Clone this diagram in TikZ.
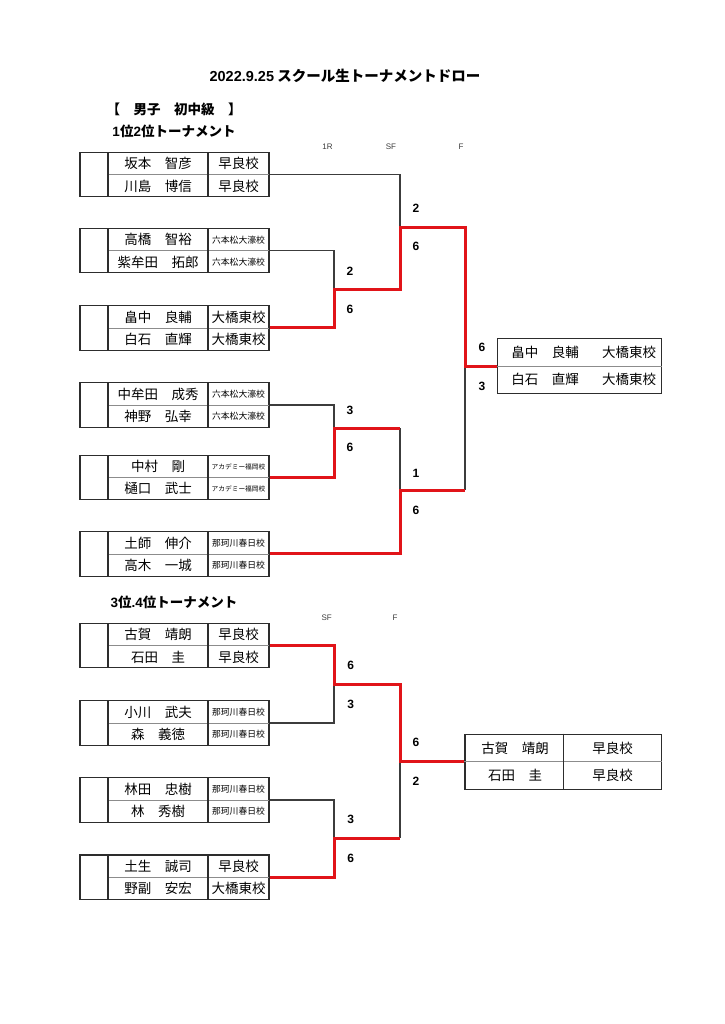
\documentclass[tikz,border=0pt]{standalone}
\usepackage{fontspec}
\setmainfont{Noto Sans CJK JP}
\newfontfamily\lat{Liberation Sans}
\definecolor{lg}{RGB}{60,60,60}
\definecolor{bx}{RGB}{45,45,45}
\definecolor{dv}{RGB}{140,140,140}
\definecolor{rd}{RGB}{225,20,25}
\tikzset{
  pairbox/.style={draw=bx,line width=1.2pt,rectangle,minimum width=189pt,minimum height=44.5pt,inner sep=0pt},
  finbox/.style={draw=bx,line width=1.2pt,rectangle,inner sep=0pt},
  boxline/.style={draw=bx,line width=1.1pt},
  midline/.style={draw=dv,line width=0.8pt},
  nm/.style={inner sep=0pt,font=\fontsize{13.5}{15}\selectfont},
  sch/.style={inner sep=0pt,font=\fontsize{13.5}{15}\selectfont},
  gline/.style={draw=lg,line width=1.15pt},
  rline/.style={draw=rd,line width=3pt,line join=miter},
  score/.style={inner sep=0pt,font=\lat\bfseries\fontsize{12}{14}\selectfont},
  rnd/.style={inner sep=0pt,text=lg,font=\lat\fontsize{8}{9}\selectfont},
  head/.style={inner sep=0pt,font=\bfseries\fontsize{13.5}{16}\selectfont}
}
\newcommand{\tpair}[7]{%
  \node[pairbox] (#1) at (174.5,{#2+22.25}) {};
  \draw[midline] (108,{#2+22.25}) -- (269,{#2+22.25});
  \draw[boxline] (108,#2) -- (108,{#2+44.5}) (208,#2) -- (208,{#2+44.5});
  \node[nm] (#1n1) at (158,{#2+11.4}) {#3};
  \node[sch] (#1s1) at (238.5,{#2+11.4}) {#7#4};
  \node[nm] (#1n2) at (158,{#2+33.6}) {#5};
  \node[sch] (#1s2) at (238.5,{#2+33.6}) {#7#6};
}
\newcommand{\smsch}{\fontsize{8.8}{10}\selectfont}
\newcommand{\tnsch}{\fontsize{6.7}{8}\selectfont}
\newcommand{\nmsch}{}
\begin{document}
\begin{tikzpicture}[x=1pt,y=-1pt]
\fill[white] (0,0) rectangle (724,1024);
\useasboundingbox (0,0) rectangle (724,1024);
% titles
\node[inner sep=0pt,font=\bfseries\fontsize{14.5}{17}\selectfont] (title) at (345,76) {{\lat 2022.9.25} スクール生トーナメントドロー};
\node[head] (cat) at (174,109) {【　男子　初中級　】};
\node[head] (t12) at (174,131) {{\lat 1}位{\lat 2}位トーナメント};
\node[rnd] (r1R) at (327.5,147) {1R};
\node[rnd] (rSF) at (391,147) {SF};
\node[rnd] (rF) at (461,147) {F};
% top tournament pairs
\tpair{p1}{152.3}{坂本　智彦}{早良校}{川島　博信}{早良校}{\nmsch}
\tpair{p2}{228.3}{高橋　智裕}{六本松大濠校}{紫牟田　拓郎}{六本松大濠校}{\smsch}
\tpair{p3}{305.7}{畠中　良輔}{大橋東校}{白石　直輝}{大橋東校}{\nmsch}
\tpair{p4}{382.7}{中牟田　成秀}{六本松大濠校}{神野　弘幸}{六本松大濠校}{\smsch}
\tpair{p5}{455.2}{中村　剛}{アカデミー福岡校}{樋口　武士}{アカデミー福岡校}{\tnsch}
\tpair{p6}{531.7}{土師　伸介}{那珂川春日校}{高木　一城}{那珂川春日校}{\smsch}
% final box top
\node[finbox,minimum width=164pt,minimum height=54.3pt] (fin1) at (579.7,366) {};
\draw[midline] (fin1.west) -- (fin1.east);
\node[nm] (f1n1) at (545,352.5) {畠中　良輔};
\node[nm] (f1s1) at (629,352.5) {大橋東校};
\node[nm] (f1n2) at (545,379.5) {白石　直輝};
\node[nm] (f1s2) at (629,379.5) {大橋東校};
% junctions top
\coordinate (r1a) at (334,289);
\coordinate (r1b) at (334,428);
\coordinate (r1bx) at (400,428);
\coordinate (s1a) at (400,228);
\coordinate (s1b) at (400,490);
\coordinate (fb) at (465,490);
\coordinate (fa) at (465,366);
% gray lines top
\draw[gline] (p1.east) -| (s1a);
\draw[gline] (p2.east) -| (r1a);
\draw[gline] (p4.east) -| (r1b);
\draw[gline] (r1bx) -- (s1b);
\draw[gline] (fb) -- (fa);
% red lines top
\draw[rline] (p3.east) -| (r1a) -| (s1a) -| (fa) -- (fin1.west);
\draw[rline] (p5.east) -| (r1b) -- (r1bx);
\draw[rline] (p6.east) -| (s1b) -- (fb);
% scores top
\node[score] (sa1) at (350,271) {2};
\node[score] (sa2) at (350,309) {6};
\node[score] (sb1) at (416,208) {2};
\node[score] (sb2) at (416,246) {6};
\node[score] (sc1) at (482,347) {6};
\node[score] (sc2) at (482,386) {3};
\node[score] (sd1) at (350,410.7) {3};
\node[score] (sd2) at (350,447.3) {6};
\node[score] (se1) at (416,473.3) {1};
\node[score] (se2) at (416,510) {6};
% bottom tournament
\node[head] (t34) at (174,602) {{\lat 3}位{\lat .4}位トーナメント};
\node[rnd] (bSF) at (326.7,618) {SF};
\node[rnd] (bF) at (395,618) {F};
\tpair{p7}{623.3}{古賀　靖朗}{早良校}{石田　圭}{早良校}{\nmsch}
\tpair{p8}{700.7}{小川　武夫}{那珂川春日校}{森　義徳}{那珂川春日校}{\smsch}
\tpair{p9}{777.7}{林田　忠樹}{那珂川春日校}{林　秀樹}{那珂川春日校}{\smsch}
\tpair{p10}{855}{土生　誠司}{早良校}{野副　安宏}{大橋東校}{\nmsch}
\node[finbox,minimum width=196.7pt,minimum height=55pt] (fin2) at (563.35,761.8) {};
\draw[midline] (fin2.west) -- (fin2.east);
\draw[boxline] (fin2.north) -- (fin2.south);
\node[nm] (f2n1) at (515,748) {古賀　靖朗};
\node[nm] (f2s1) at (612.7,748) {早良校};
\node[nm] (f2n2) at (515,775.5) {石田　圭};
\node[nm] (f2s2) at (612.7,775.5) {早良校};
\coordinate (r2a) at (334,684.3);
\coordinate (r2b) at (334,838.3);
\coordinate (f2a) at (400,761.8);
\coordinate (f2b) at (400,838.3);
\draw[gline] (p8.east) -| (r2a);
\draw[gline] (p9.east) -| (r2b);
\draw[gline] (f2b) -- (f2a);
\draw[rline] (p7.east) -| (r2a) -| (f2a) -- (fin2.west);
\draw[rline] (p10.east) -| (r2b) -- (f2b);
\node[score] (sf1) at (350.7,665.7) {6};
\node[score] (sf2) at (350.7,704) {3};
\node[score] (sg1) at (416,742.7) {6};
\node[score] (sg2) at (416,781.7) {2};
\node[score] (sh1) at (350.7,819.3) {3};
\node[score] (sh2) at (350.7,858.3) {6};
\end{tikzpicture}
\end{document}
